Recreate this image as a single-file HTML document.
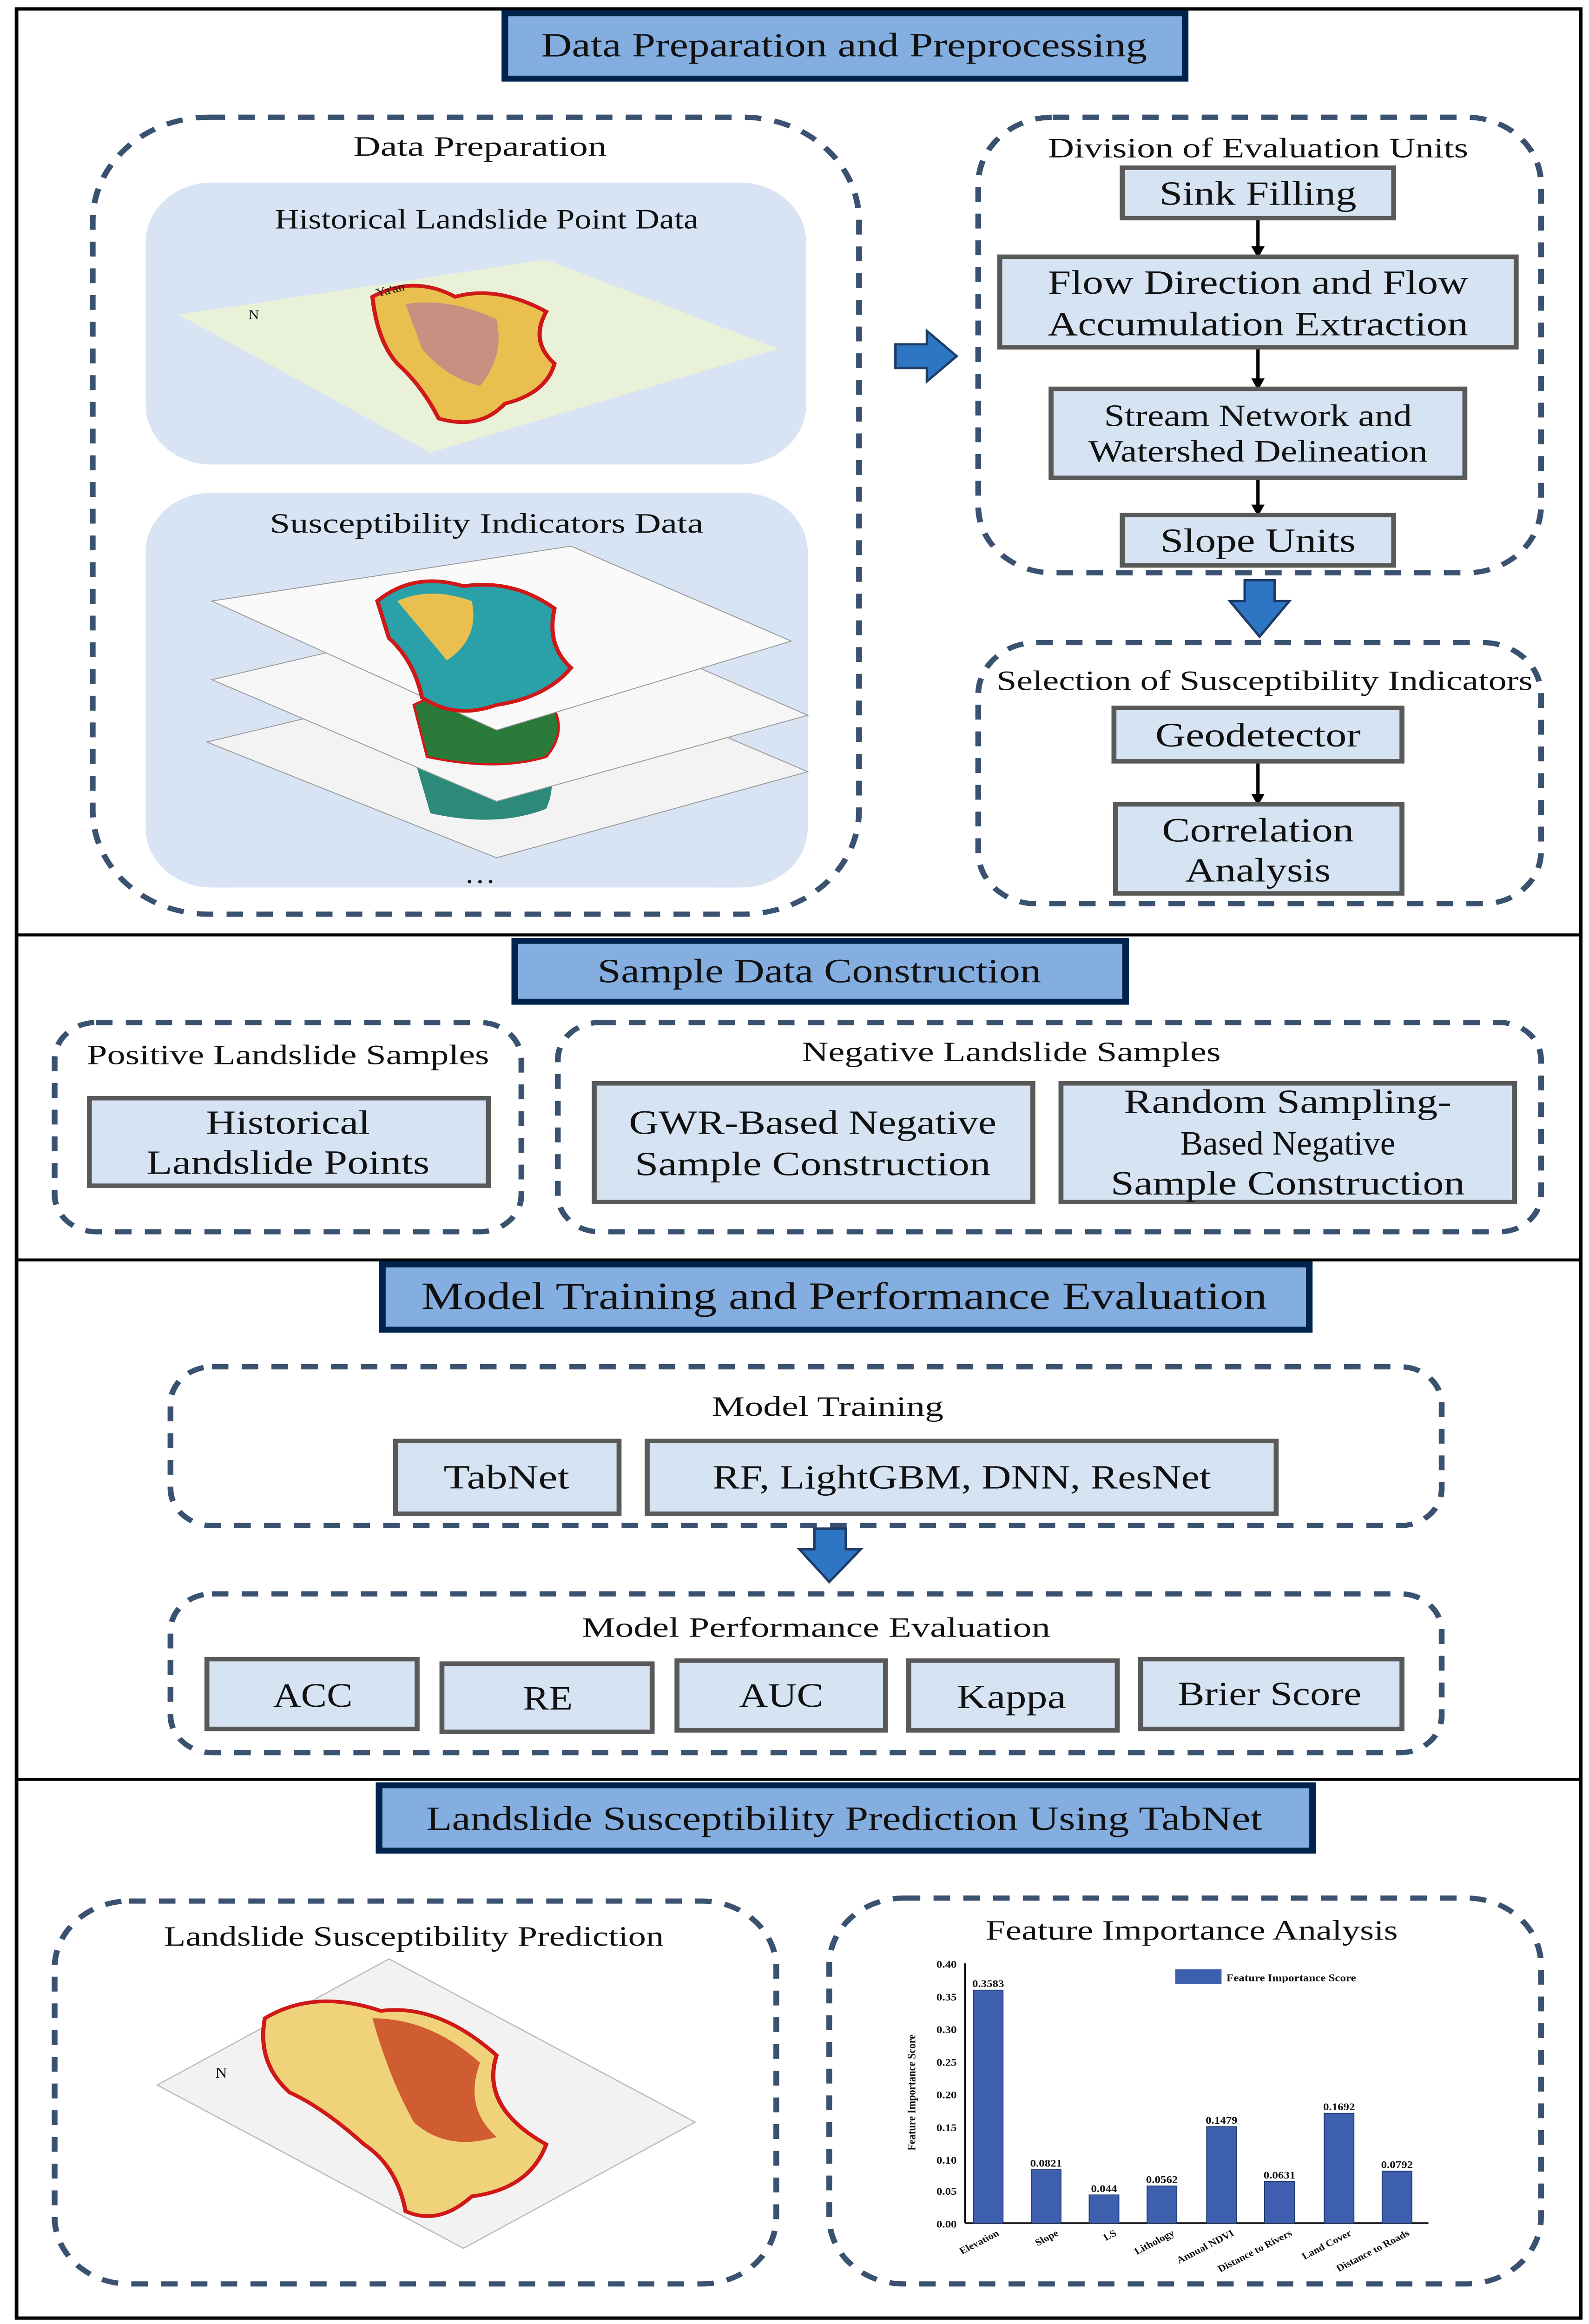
<!DOCTYPE html>
<html><head><meta charset="utf-8"><style>
html,body{margin:0;padding:0;background:#fff;overflow:hidden;width:100%;height:100%}
svg{display:block;position:fixed;left:0;top:0;width:100vw;height:100vh}
text{font-family:"Liberation Serif",serif;fill:#111}
</style></head><body>
<svg viewBox="0 0 960 1566" preserveAspectRatio="none" xmlns="http://www.w3.org/2000/svg">
<defs>
<marker id="ah" markerWidth="8" markerHeight="8" refX="4" refY="4" orient="auto" markerUnits="userSpaceOnUse"><path d="M0,0 L8,4 L0,8 z" fill="#000"/></marker>
</defs>
<rect x="0" y="0" width="960" height="1566" fill="#fff"/>
<rect x="10" y="6" width="945" height="1556" fill="none" stroke="#000" stroke-width="2.2"/>
<line x1="10" y1="630" x2="955" y2="630" stroke="#000" stroke-width="2"/>
<line x1="10" y1="849" x2="955" y2="849" stroke="#000" stroke-width="2"/>
<line x1="10" y1="1199" x2="955" y2="1199" stroke="#000" stroke-width="2"/>

<g stroke="#00234d" stroke-width="4" fill="#84ade0">
<rect x="305" y="9" width="411" height="44"/>
<rect x="311" y="634" width="369" height="41"/>
<rect x="231" y="852" width="560" height="44"/>
<rect x="229" y="1203" width="564" height="44"/>
</g>
<g text-anchor="middle" lengthAdjust="spacingAndGlyphs">
<text x="510" y="38" font-size="23" textLength="366" lengthAdjust="spacingAndGlyphs">Data Preparation and Preprocessing</text>
<text x="495" y="662" font-size="23" textLength="268" lengthAdjust="spacingAndGlyphs">Sample Data Construction</text>
<text x="510" y="882" font-size="26" textLength="511" lengthAdjust="spacingAndGlyphs">Model Training and Performance Evaluation</text>
<text x="510" y="1233" font-size="23" textLength="505" lengthAdjust="spacingAndGlyphs">Landslide Susceptibility Prediction Using TabNet</text>
</g>

<g fill="none" stroke="#3a5270" stroke-width="3.5" stroke-dasharray="10 8">
<rect x="56" y="79" width="463" height="537" rx="70"/>
<rect x="591" y="79" width="340" height="307" rx="45"/>
<rect x="591" y="433" width="340" height="176" rx="35"/>
<rect x="33" y="689" width="282" height="141" rx="25"/>
<rect x="337" y="689" width="594" height="141" rx="25"/>
<rect x="103" y="921" width="768" height="107" rx="25"/>
<rect x="103" y="1074" width="768" height="107" rx="25"/>
<rect x="33" y="1281" width="436" height="258" rx="45"/>
<rect x="501" y="1279" width="430" height="260" rx="45"/>
</g>

<rect x="88" y="123" width="399" height="190" rx="40" fill="#d8e4f3"/>
<rect x="88" y="332" width="400" height="266" rx="40" fill="#d8e4f3"/>

<!-- map 1 -->
<polygon points="108,212 330,175 470,235 260,305" fill="#e9f2d8"/>
<path d="M225,200 Q250,185 275,200 Q300,192 330,210 Q320,230 335,245 Q330,265 305,272 Q290,290 265,282 Q255,260 240,245 Q228,230 225,200z" fill="#e9c050" stroke="#d01818" stroke-width="2.5"/>
<path d="M245,205 Q270,200 300,215 Q305,240 290,260 Q270,255 255,235z" fill="#b070a0" opacity="0.6"/>
<text x="228" y="200" font-size="8" transform="rotate(-15 228 200)">Ya'an</text>
<text x="150" y="215" font-size="9">N</text>
<!-- map 2 stack -->
<polygon points="125,500 330,445 488,520 300,578" fill="#f3f3f3" stroke="#999" stroke-width="0.6"/>
<path d="M250,510 Q280,490 320,500 Q340,520 330,545 Q300,558 260,548z" fill="#2d8a7a"/>
<polygon points="128,458 330,405 488,482 300,540" fill="#f6f6f6" stroke="#999" stroke-width="0.6"/>
<path d="M250,475 Q285,455 330,470 Q345,490 330,510 Q300,520 258,510z" fill="#2a7a3a" stroke="#d01818" stroke-width="1.5"/>
<polygon points="128,405 345,368 478,432 300,492" fill="#fafafa" stroke="#999" stroke-width="0.6"/>
<path d="M228,405 Q250,385 280,395 Q310,390 335,410 Q330,435 345,450 Q330,470 300,475 Q275,485 255,470 Q250,445 235,430z" fill="#2aa0a8" stroke="#d01818" stroke-width="2.5"/>
<path d="M240,405 Q260,395 285,405 Q290,430 270,445 Q250,430z" fill="#e9c050"/>

<g text-anchor="middle" font-size="19">
<text x="290" y="105" textLength="153" lengthAdjust="spacingAndGlyphs">Data Preparation</text>
<text x="294" y="154" textLength="256" lengthAdjust="spacingAndGlyphs">Historical Landslide Point Data</text>
<text x="294" y="359" textLength="262" lengthAdjust="spacingAndGlyphs">Susceptibility Indicators Data</text>
<text x="290" y="595">…</text>
<text x="760" y="106" textLength="254" lengthAdjust="spacingAndGlyphs">Division of Evaluation Units</text>
<text x="764" y="465" textLength="324" lengthAdjust="spacingAndGlyphs">Selection of Susceptibility Indicators</text>
<text x="174" y="717" textLength="243" lengthAdjust="spacingAndGlyphs">Positive Landslide Samples</text>
<text x="611" y="715" textLength="253" lengthAdjust="spacingAndGlyphs">Negative Landslide Samples</text>
<text x="500" y="954" textLength="140" lengthAdjust="spacingAndGlyphs">Model Training</text>
<text x="493" y="1103" textLength="283" lengthAdjust="spacingAndGlyphs">Model  Performance Evaluation</text>
<text x="250" y="1311" textLength="302" lengthAdjust="spacingAndGlyphs">Landslide Susceptibility Prediction</text>
<text x="720" y="1307" textLength="249" lengthAdjust="spacingAndGlyphs">Feature Importance Analysis</text>
</g>

<!-- arrows -->
<path d="M541,232 L560,232 L560,223 L578,240 L560,257 L560,248 L541,248z" fill="#2e75c4" stroke="#1f3b66" stroke-width="1.5"/>
<path d="M752,391 L770,391 L770,405 L779,405 L761,429 L743,405 L752,405z" fill="#2e75c4" stroke="#1f3b66" stroke-width="1.5"/>
<path d="M492,1030 L511,1030 L511,1044 L520,1044 L501,1066 L483,1044 L492,1044z" fill="#2e75c4" stroke="#1f3b66" stroke-width="1.5"/>

<g stroke="#000" stroke-width="2" marker-end="url(#ah)">
<line x1="760" y1="148" x2="760" y2="170"/>
<line x1="760" y1="235" x2="760" y2="259"/>
<line x1="760" y1="323" x2="760" y2="344"/>
<line x1="760" y1="514" x2="760" y2="539"/>
</g>

<g fill="#d6e3f2" stroke="#595959" stroke-width="3">
<rect x="678" y="113" width="164" height="34"/>
<rect x="604" y="173" width="312" height="61"/>
<rect x="635" y="262" width="250" height="60"/>
<rect x="678" y="347" width="164" height="34"/>
<rect x="673" y="477" width="174" height="36"/>
<rect x="674" y="542" width="173" height="60"/>
<rect x="54" y="740" width="241" height="59"/>
<rect x="359" y="730" width="265" height="80"/>
<rect x="641" y="730" width="274" height="80"/>
<rect x="239" y="971" width="135" height="49"/>
<rect x="391" y="971" width="380" height="49"/>
<rect x="125" y="1118" width="127" height="47"/>
<rect x="267" y="1121" width="127" height="46"/>
<rect x="409" y="1119" width="126" height="47"/>
<rect x="549" y="1119" width="126" height="47"/>
<rect x="689" y="1118" width="158" height="47"/>
</g>
<g text-anchor="middle" font-size="23">
<text x="760" y="138" textLength="119" lengthAdjust="spacingAndGlyphs">Sink Filling</text>
<text x="760" y="198" textLength="254" lengthAdjust="spacingAndGlyphs">Flow Direction and Flow</text>
<text x="760" y="226" textLength="254" lengthAdjust="spacingAndGlyphs">Accumulation Extraction</text>
<text x="760" y="287" font-size="21" textLength="186" lengthAdjust="spacingAndGlyphs">Stream Network and</text>
<text x="760" y="311" font-size="21" textLength="205" lengthAdjust="spacingAndGlyphs">Watershed Delineation</text>
<text x="760" y="372" textLength="118" lengthAdjust="spacingAndGlyphs">Slope Units</text>
<text x="760" y="503" textLength="124" lengthAdjust="spacingAndGlyphs">Geodetector</text>
<text x="760" y="567" textLength="116" lengthAdjust="spacingAndGlyphs">Correlation</text>
<text x="760" y="594" textLength="88" lengthAdjust="spacingAndGlyphs">Analysis</text>
<text x="174" y="764" textLength="99" lengthAdjust="spacingAndGlyphs">Historical</text>
<text x="174" y="791" textLength="171" lengthAdjust="spacingAndGlyphs">Landslide Points</text>
<text x="491" y="764" textLength="222" lengthAdjust="spacingAndGlyphs">GWR-Based Negative</text>
<text x="491" y="792" textLength="215" lengthAdjust="spacingAndGlyphs">Sample Construction</text>
<text x="778" y="750" textLength="198" lengthAdjust="spacingAndGlyphs">Random Sampling-</text>
<text x="778" y="778" textLength="130" lengthAdjust="spacingAndGlyphs">Based Negative</text>
<text x="778" y="805" textLength="214" lengthAdjust="spacingAndGlyphs">Sample Construction</text>
<text x="306" y="1003" textLength="76" lengthAdjust="spacingAndGlyphs">TabNet</text>
<text x="581" y="1003" textLength="301" lengthAdjust="spacingAndGlyphs">RF, LightGBM, DNN, ResNet</text>
<text x="189" y="1150" textLength="48" lengthAdjust="spacingAndGlyphs">ACC</text>
<text x="331" y="1152" textLength="30" lengthAdjust="spacingAndGlyphs">RE</text>
<text x="472" y="1150" textLength="51" lengthAdjust="spacingAndGlyphs">AUC</text>
<text x="611" y="1151" textLength="66" lengthAdjust="spacingAndGlyphs">Kappa</text>
<text x="767" y="1149" textLength="111" lengthAdjust="spacingAndGlyphs">Brier Score</text>
</g>

<!-- prediction map -->
<polygon points="95,1405 235,1320 420,1430 280,1515" fill="#f2f2f2" stroke="#bbb" stroke-width="0.8"/>
<path d="M160,1360 Q190,1340 230,1355 Q265,1350 300,1385 Q290,1420 330,1445 Q320,1475 285,1480 Q265,1500 245,1490 Q240,1460 220,1445 Q195,1420 175,1410 Q155,1390 160,1360z" fill="#f0d27a" stroke="#d01818" stroke-width="2.5"/>
<path d="M225,1360 Q260,1360 290,1390 Q280,1420 300,1440 Q270,1450 250,1430 Q235,1400 225,1360z" fill="#c84020" opacity="0.8"/>
<text x="130" y="1400" font-size="10">N</text>

<!-- chart -->
<g font-size="7" font-weight="bold">
<line x1="583" y1="1323" x2="583" y2="1498" stroke="#000" stroke-width="1"/>
<line x1="583" y1="1498" x2="863" y2="1498" stroke="#000" stroke-width="1"/>
<g text-anchor="end">
<text x="578" y="1326">0.40</text><text x="578" y="1348">0.35</text><text x="578" y="1370">0.30</text>
<text x="578" y="1392">0.25</text><text x="578" y="1414">0.20</text><text x="578" y="1436">0.15</text>
<text x="578" y="1458">0.10</text><text x="578" y="1479">0.05</text><text x="578" y="1501">0.00</text>
</g>
<text x="553" y="1410" font-size="7" transform="rotate(-90 553 1410)" text-anchor="middle">Feature Importance Score</text>
<rect x="710" y="1327" width="28" height="10" fill="#3d5fae"/>
<text x="741" y="1335">Feature Importance Score</text>
<g fill="#3d5fae" stroke="#1a2f66" stroke-width="0.5">
<rect x="588" y="1341" width="18" height="157"/>
<rect x="623" y="1462" width="18" height="36"/>
<rect x="658" y="1479" width="18" height="19"/>
<rect x="693" y="1473" width="18" height="25"/>
<rect x="729" y="1433" width="18" height="65"/>
<rect x="764" y="1470" width="18" height="28"/>
<rect x="800" y="1424" width="18" height="74"/>
<rect x="835" y="1463" width="18" height="35"/>
</g>
<g text-anchor="middle">
<text x="597" y="1339">0.3583</text><text x="632" y="1460">0.0821</text><text x="667" y="1477">0.044</text>
<text x="702" y="1471">0.0562</text><text x="738" y="1431">0.1479</text><text x="773" y="1468">0.0631</text>
<text x="809" y="1422">0.1692</text><text x="844" y="1461">0.0792</text>
</g>
<g text-anchor="end" font-size="6.5">
<text x="604" y="1506" transform="rotate(-30 604 1506)">Elevation</text>
<text x="640" y="1506" transform="rotate(-30 640 1506)">Slope</text>
<text x="675" y="1506" transform="rotate(-30 675 1506)">LS</text>
<text x="710" y="1506" transform="rotate(-30 710 1506)">Lithology</text>
<text x="746" y="1506" transform="rotate(-30 746 1506)">Annual NDVI</text>
<text x="781" y="1506" transform="rotate(-30 781 1506)">Distance to Rivers</text>
<text x="817" y="1506" transform="rotate(-30 817 1506)">Land Cover</text>
<text x="852" y="1506" transform="rotate(-30 852 1506)">Distance to Roads</text>
</g>
</g>
</svg>
</body></html>
